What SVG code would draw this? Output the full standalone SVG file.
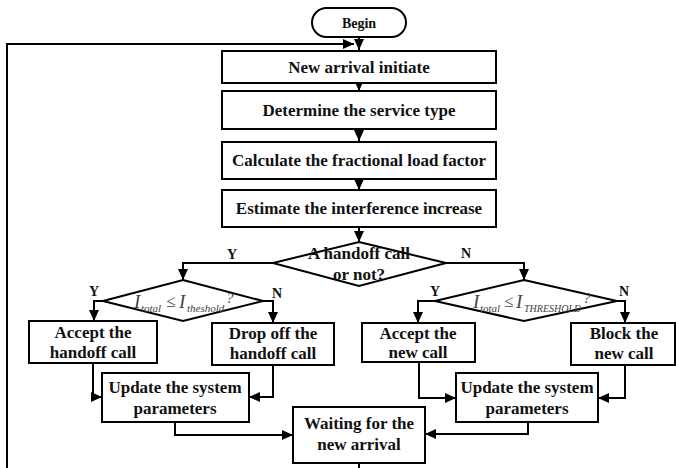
<svg xmlns="http://www.w3.org/2000/svg" width="676" height="468" viewBox="0 0 676 468">
<defs>
<marker id="ah" markerUnits="userSpaceOnUse" markerWidth="12" markerHeight="10" refX="11" refY="5" orient="auto">
<path d="M0,0 L11,5 L0,10 Z" fill="#000"/>
</marker>
<style>
.b{fill:#fff;stroke:#000;stroke-width:2}
.c{fill:none;stroke:#000;stroke-width:2;marker-end:url(#ah)}
.t{font-family:"Liberation Serif","Times New Roman",serif;font-weight:bold;font-size:17px;text-anchor:middle;fill:#111}
.yn{font-family:"Liberation Serif","Times New Roman",serif;font-weight:bold;font-size:14px;text-anchor:middle;fill:#111}
.f{font-family:"Liberation Serif","Times New Roman",serif;font-style:italic;fill:#444}
</style>
</defs>
<rect width="676" height="468" fill="#fff"/>
<g id="connectors">
<path class="c" d="M359,37 V50"/>
<path class="c" d="M359,83 V91"/>
<path class="c" d="M359,129 V141"/>
<path class="c" d="M359,179 V190"/>
<path class="c" d="M359,227 V242"/>
<path class="c" d="M273,263 H183 V280"/>
<path class="c" d="M446,263 H524 V280"/>
<path class="c" d="M103,301 H94 V321"/>
<path class="c" d="M263,301 H273 V323"/>
<path class="c" d="M435,301 H418 V323"/>
<path class="c" d="M617,301 H625 V323"/>
<path class="c" d="M93,363 V397 H102"/>
<path class="c" d="M273,365 V397 H249"/>
<path class="c" d="M419,362 V398 H456"/>
<path class="c" d="M625,365 V398 H598"/>
<path class="c" d="M175,422 V435 H293"/>
<path class="c" d="M528,422 V434 H425"/>
<path class="c" d="M359,463 V472 H7 V44 H354"/>
</g>
<g id="begin"><rect class="b" x="312" y="8" width="94" height="29" rx="14.5"/><text class="t" x="359" y="28" style="font-size:14px">Begin</text></g>
<g id="n1"><rect class="b" x="222" y="51" width="274" height="32"/><text class="t" x="359" y="73">New arrival initiate</text></g>
<g id="n2"><rect class="b" x="222" y="91" width="274" height="38"/><text class="t" x="359" y="116">Determine the service type</text></g>
<g id="n3"><rect class="b" x="222" y="142" width="274" height="37"/><text class="t" x="359" y="166">Calculate the fractional load factor</text></g>
<g id="n4"><rect class="b" x="222" y="190" width="274" height="37"/><text class="t" x="359" y="214">Estimate the interference increase</text></g>
<g id="d1"><polygon class="b" points="359,242 446,263 359,286 273,263"/><text class="t" x="359" y="259">A handoff call</text><text class="t" x="359" y="280">or not?</text>
<text class="yn" x="232" y="259">Y</text><text class="yn" x="466" y="258">N</text></g>
<g id="d2"><polygon class="b" points="183,280 263,301 183,321 103,301"/>
<text class="f" x="134" y="308" font-size="19">I</text><text class="f" x="141" y="312" font-size="11">total</text><text x="166" y="307" font-size="17" style="font-family:'Liberation Serif',serif;fill:#444">≤</text><text class="f" x="179" y="308" font-size="19">I</text><text class="f" x="187" y="312" font-size="11">theshold</text><text class="f" x="226" y="303" font-size="15">?</text>
<text class="yn" x="94" y="296">Y</text><text class="yn" x="277" y="298">N</text></g>
<g id="d3"><polygon class="b" points="524,280 617,301 524,321 435,301"/>
<text class="f" x="473" y="308" font-size="19">I</text><text class="f" x="480" y="312" font-size="11">total</text><text x="504" y="307" font-size="17" style="font-family:'Liberation Serif',serif;fill:#444">≤</text><text class="f" x="516" y="308" font-size="19">I</text><text class="f" x="524" y="312" font-size="10">THRESHOLD</text><text class="f" x="583" y="303" font-size="15">?</text>
<text class="yn" x="435" y="296">Y</text><text class="yn" x="624" y="296">N</text></g>
<g id="n5"><rect class="b" x="29" y="321" width="128" height="42"/><text class="t" x="93" y="338">Accept the</text><text class="t" x="93" y="358">handoff call</text></g>
<g id="n6"><rect class="b" x="212" y="323" width="122" height="42"/><text class="t" x="273" y="339">Drop off the</text><text class="t" x="273" y="359">handoff call</text></g>
<g id="n7"><rect class="b" x="362" y="323" width="113" height="39"/><text class="t" x="418" y="339">Accept the</text><text class="t" x="418" y="358">new call</text></g>
<g id="n8"><rect class="b" x="571" y="323" width="104" height="42"/><text class="t" x="624" y="339">Block the</text><text class="t" x="624" y="359">new call</text></g>
<g id="n9"><rect class="b" x="102" y="373" width="147" height="49"/><text class="t" x="175" y="393">Update the system</text><text class="t" x="175" y="414">parameters</text></g>
<g id="n10"><rect class="b" x="456" y="373" width="142" height="49"/><text class="t" x="527" y="393">Update the system</text><text class="t" x="527" y="414">parameters</text></g>
<g id="n11"><rect class="b" x="293" y="407" width="132" height="56"/><text class="t" x="359" y="429">Waiting for the</text><text class="t" x="359" y="450">new arrival</text></g>
</svg>
